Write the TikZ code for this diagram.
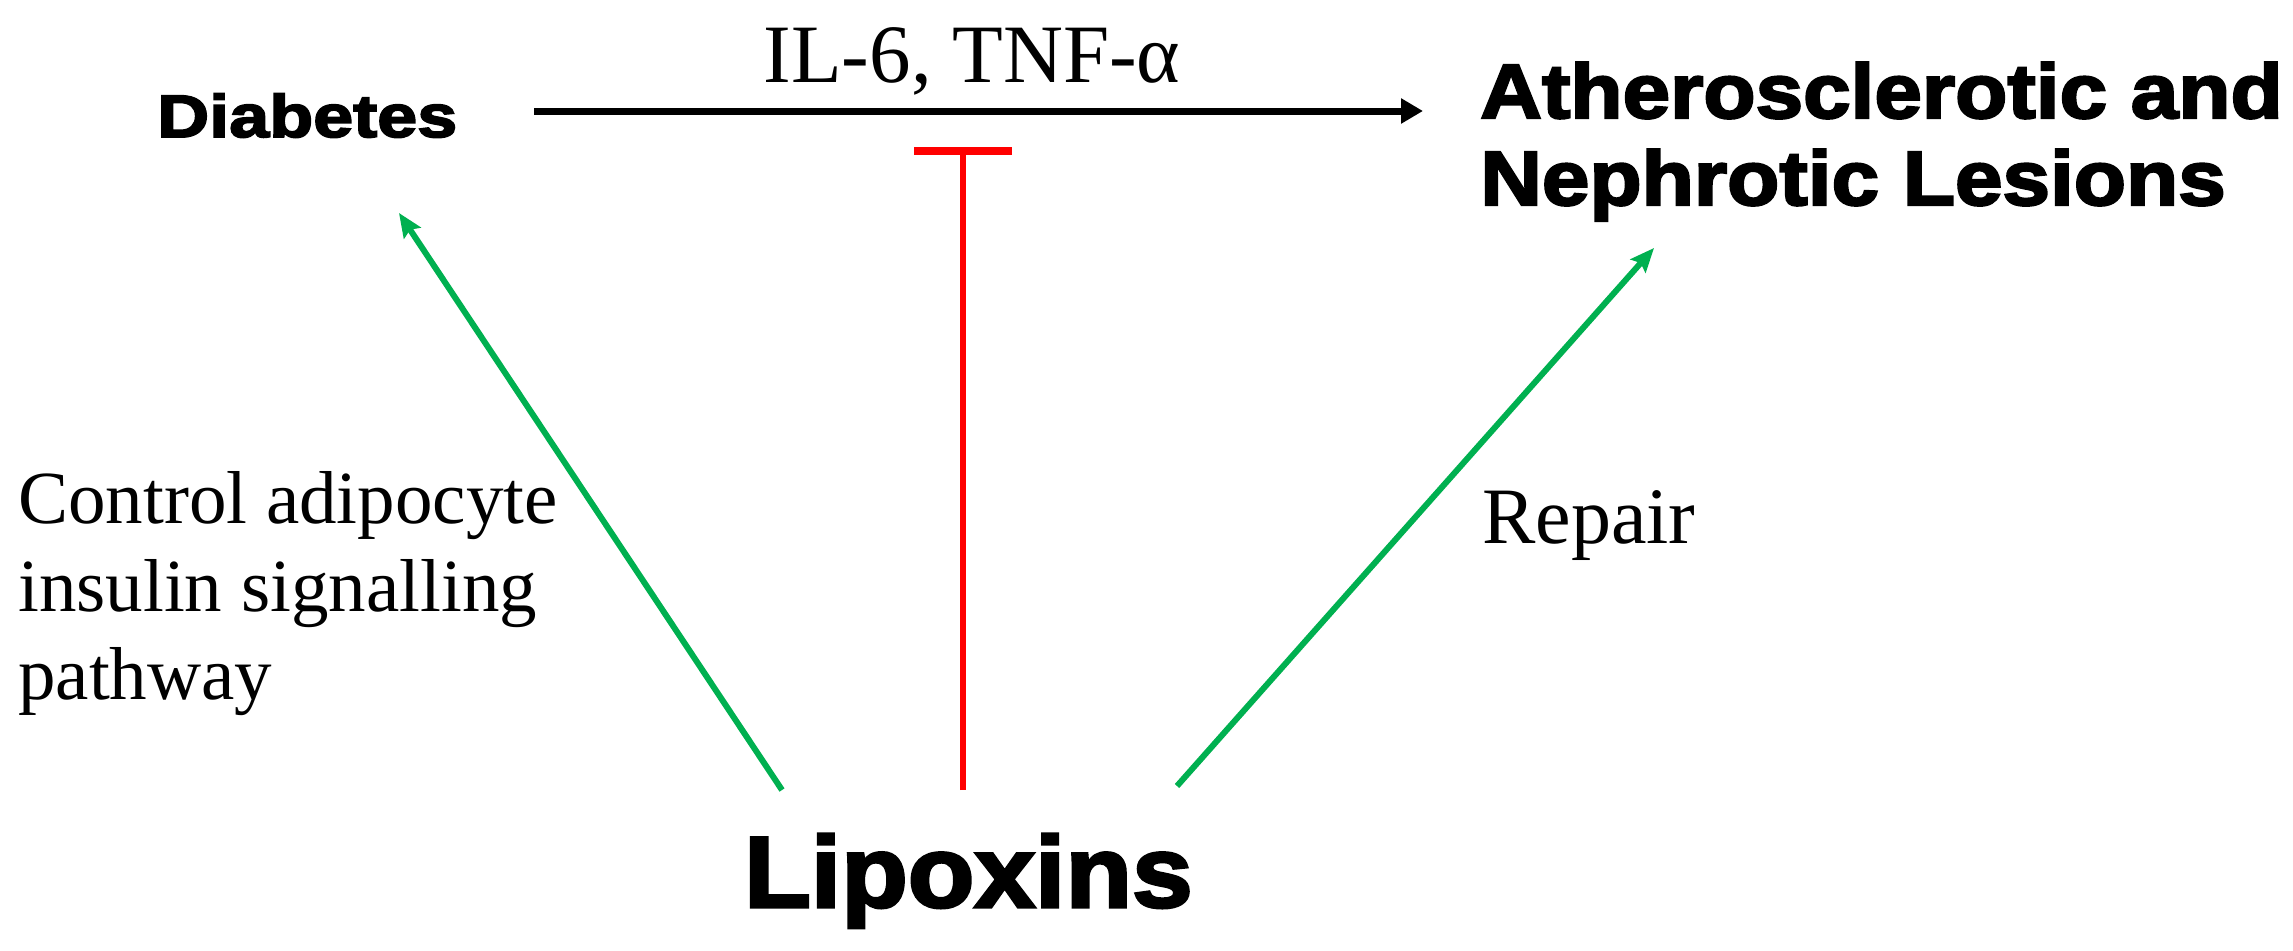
\documentclass[tikz,border=0pt]{standalone}
\usepackage{fontspec}
\setmainfont{Liberation Serif}
\newfontfamily\headfont{Liberation Sans}[FakeBold=3]
\usetikzlibrary{arrows.meta}
\tikzset{
  lbl/.style={inner sep=0pt, text=black},
  head/.style={lbl},
  promote/.style={draw={rgb,255:red,0;green,176;blue,80}, line width=6pt, -{Stealth[length=24pt,width=20pt,inset=4pt]}},
  inhibit/.style={draw=red, line width=6pt, -{Bar[width=98pt,line width=8pt]}},
  flow/.style={draw=black, line width=7pt, -{Triangle[length=22pt,width=24pt]}},
}
\begin{document}
\begin{tikzpicture}[x=1pt,y=-1pt]
\fill[white] (0,0) rectangle (2293,950);
\useasboundingbox (0,0) rectangle (2293,950);
% labels
\node[head, anchor=base west, font=\headfont\bfseries\addfontfeature{FakeStretch=1.2}\fontsize{60}{60}\selectfont] (diab) at (157,137) {Diabetes};
\node[head, anchor=base west, align=left, font=\headfont\bfseries\addfontfeature{FakeStretch=1.11}\fontsize{77}{87}\selectfont] (ath) at (1480,205) {Atherosclerotic and\\Nephrotic Lesions};
\node[head, anchor=base west, font=\headfont\bfseries\addfontfeature{FakeStretch=1.08}\fontsize{101}{101}\selectfont] (lip) at (744,907) {Lipoxins};
\node[lbl, anchor=base, font=\fontsize{83}{83}\selectfont] (cyt) at (972,82) {IL-6, TNF-α};
\node[lbl, anchor=base west, align=left, font=\fontsize{75}{88}\selectfont] (ctrl) at (18,699) {Control adipocyte\\insulin signalling\\pathway};
\node[lbl, anchor=base west, font=\fontsize{80}{80}\selectfont] (rep) at (1482,543) {Repair};
% connector end points
\coordinate (flowS) at (534,111);
\coordinate (flowE) at (1423,111);
\coordinate (lipL) at (782,790);
\coordinate (lipC) at (963,790);
\coordinate (lipR) at (1177,786);
\coordinate (diabT) at (399,213);
\coordinate (inhT) at (963,147);
\coordinate (athT) at (1654,248);
% connectors
\draw[flow] (flowS) -- (flowE);
\draw[promote] (lipL) -- (diabT);
\draw[inhibit] (lipC) -- (inhT);
\draw[promote] (lipR) -- (athT);
\end{tikzpicture}
\end{document}
